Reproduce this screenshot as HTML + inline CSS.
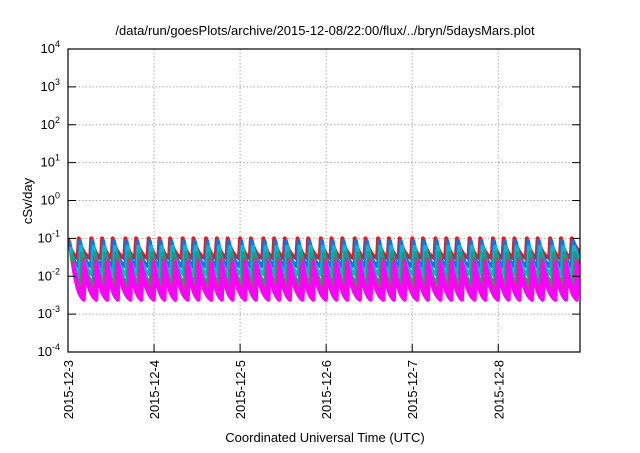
<!DOCTYPE html>
<html><head><meta charset="utf-8"><style>
body{margin:0;background:#fff;font-family:"Liberation Sans",sans-serif}
svg text{font-family:"Liberation Sans",sans-serif;fill:#000}
</style></head><body>
<svg width="640" height="448" viewBox="0 0 640 448" xmlns="http://www.w3.org/2000/svg" id="c">
<text x="325" y="35" font-size="13" text-anchor="middle">/data/run/goesPlots/archive/2015-12-08/22:00/flux/../bryn/5daysMars.plot</text>
<text transform="translate(32,201) rotate(-90)" font-size="13" text-anchor="middle">cSv/day</text>
<text x="325" y="442" font-size="13" text-anchor="middle">Coordinated Universal Time (UTC)</text>
<g id="grid"></g><g id="series"></g><g id="axes"></g>
</svg>
<script>
const yTickExps=[4,3,2,1,0,-1,-2,-3,-4];
const xTickLabels=["2015-12-3","2015-12-4","2015-12-5","2015-12-6","2015-12-7","2015-12-8"];
const xTickDays=[0,1,2,3,4,5];
const peakHours=[0,3,6.5,9.5,12.5,16,19,22.5,25.5,28.5,32,35,38.5,41.5,44.5,48,51,54.5,57.5,60.5,64,67,70.5,73.5,76.5,80,83,86.5,89.5,92.5,96,99,102.5,105.5,108.5,112,115,118.5,121.5,124.5,128,131,134.5,137.5,140.5];
const seriesNames=["red","blue","cyan","green","brown","magenta","magenta-low"];
const seriesColors=["#e41a1c","#1f6fd8","#00b8d0","#1aa080","#a05070","#ff00ff","#ff00ff"];
const seriesPeaks=[0.1,0.085,0.06,0.04,0.028,0.022,0.016];
const seriesTroughs=[0.03,0.018,0.011,0.0065,0.0042,0.0032,0.0024];
const seriesLag=[0,0.3,0.6,0.9,1.2,1.4,1.7];
const L=68,R=580,T=49,B=352,HOURS=142.8;
const x=h=>L+(R-L)*h/HOURS;
const y=v=>T+(B-T)*(4-Math.log10(v))/8;
const NS="http://www.w3.org/2000/svg";
function mk(t,a,p){const e=document.createElementNS(NS,t);for(const k in a)e.setAttribute(k,a[k]);p.appendChild(e);return e;}
const grid=document.getElementById('grid'),axes=document.getElementById('axes'),ser=document.getElementById('series');
yTickExps.forEach(e=>{const yy=y(Math.pow(10,e));
 if(e<4&&e>-4){const g=mk('line',{x1:L,x2:R,y1:yy,y2:yy,stroke:'#aaa','stroke-dasharray':'1.5,2','stroke-width':1},grid);
 }
 const t1=mk('line',{x1:L,x2:L+8,y1:yy,y2:yy,stroke:'#000'},axes);
 const t2=mk('line',{x1:R-8,x2:R,y1:yy,y2:yy,stroke:'#000'},axes);
 const tx=mk('text',{x:60,y:yy+4,'font-size':13,'text-anchor':'end'},axes);
 
 tx.textContent='10';const s=mk('tspan',{dy:-6,'font-size':9},tx);s.textContent=String(e);});
xTickDays.forEach((d,i)=>{const xx=x(d*24);
 if(i>0){const g=mk('line',{x1:xx,x2:xx,y1:T,y2:B,stroke:'#aaa','stroke-dasharray':'1.5,2'},grid);}
 const t=mk('line',{x1:xx,x2:xx,y1:B-8,y2:B,stroke:'#000'},axes);
 const tx=mk('text',{transform:`translate(${xx+5},360) rotate(-90)`,'font-size':13,'text-anchor':'end'},axes);
 tx.textContent=xTickLabels[i];});
const clip=mk('clipPath',{id:'pc'},document.getElementById('c'));mk('rect',{x:L,y:T,width:R-L,height:B-T},clip);
ser.setAttribute('clip-path','url(#pc)');
seriesNames.forEach((n,si)=>{let pts=[];const P=Math.log10(seriesPeaks[si]),Tr=Math.log10(seriesTroughs[si]);const lag=seriesLag[si];
 peakHours.forEach((h,i)=>{const nx=i+1<peakHours.length?peakHours[i+1]:HOURS+3;const dur=nx-h;
  pts.push([x(h+lag),y(Math.pow(10,P))]);
  for(let k=1;k<=6;k++){const fr=k/6;const lv=P+(Tr-P)*(1-Math.exp(-2.2*fr))/(1-Math.exp(-2.2));pts.push([x(h+lag+(dur-0.3)*fr),y(Math.pow(10,lv))]);}});
 const p=mk('polyline',{points:pts.map(q=>q[0].toFixed(1)+','+q[1].toFixed(1)).join(' '),fill:'none',stroke:seriesColors[si],'stroke-width':4,'stroke-linejoin':'round'},ser);
 });
const f=mk('rect',{x:L,y:T,width:R-L,height:B-T,fill:'none',stroke:'#000','stroke-width':1.2},axes);

</script>
</body></html>
